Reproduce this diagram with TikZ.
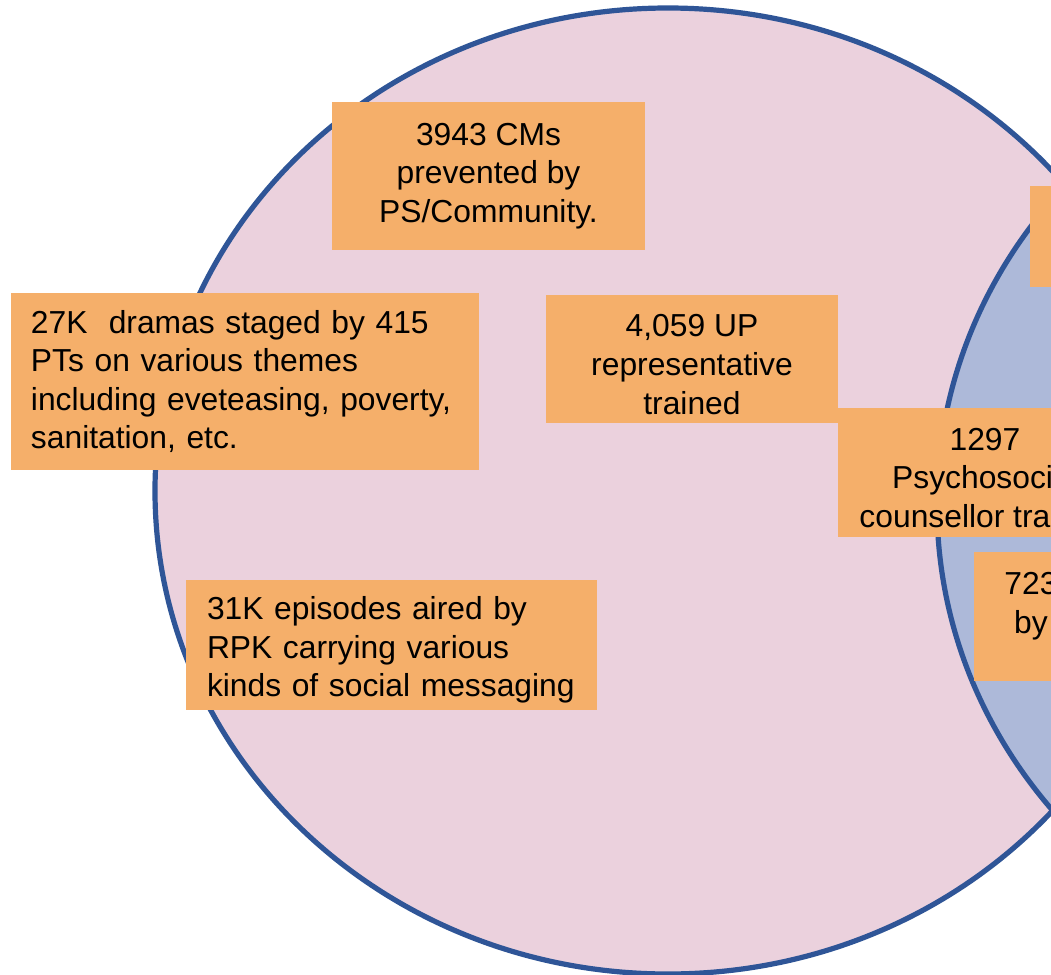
\documentclass[tikz,border=0pt]{standalone}
\usepackage{fontspec}
\setmainfont{Liberation Sans}
\definecolor{ringblue}{HTML}{2F5597}
\definecolor{pinkfill}{HTML}{EBD1DD}
\definecolor{bluefill}{HTML}{ADB9D9}
\definecolor{boxorange}{HTML}{F5AF6A}
\newcommand{\toppad}{\rule{0pt}{16.6pt}}
\begin{document}
\begin{tikzpicture}[x=0.5pt,y=-0.5pt,
  ring/.style={draw=ringblue, line width=2.6pt},
  box/.style={fill=boxorange, draw=none, inner sep=0pt, text=black,
    font=\fontsize{15.9pt}{19.3pt}\selectfont},
  cbox/.style={box, align=center},
  lbox/.style={box, align=left}]
\useasboundingbox (0,0) rectangle (1051,975);
\clip (0,0) rectangle (1051,975);
\fill[white] (0,0) rectangle (1051,975);
\path[ring, fill=pinkfill] (668,491) ellipse [x radius=256.5pt, y radius=241.5pt];
\path[ring, fill=bluefill] (1450,505) ellipse [x radius=256.5pt, y radius=241.5pt];
\node[cbox, minimum width=156.5pt, minimum height=74pt] (cms) at (488.5,176)
  {3943 CMs\\prevented by\\PS/Community.};
\node[lbox, inner xsep=10pt, text width=214pt, minimum height=88.5pt] (dramas) at (245,381.5)
  {27K\ \ dramas staged by 415\\PTs on various themes\\including eveteasing, poverty,\\sanitation, etc.};
\node[cbox, minimum width=146pt, minimum height=64pt] (up) at (692,359)
  {\toppad 4,059 UP\\representative\\trained};
\node[cbox, minimum width=147pt, minimum height=64.5pt] (psy) at (985,472.5)
  {\toppad 1297\\Psychosocial\\counsellor trained};
\node[cbox, minimum width=57pt, minimum height=64.5pt] (sev) at (1031,616.5)
  {\toppad 723\\by\\\mbox{}};
\node[lbox, inner xsep=10.5pt, text width=184.5pt, minimum height=65pt] (rpk) at (391.5,645)
  {\toppad 31K episodes aired by\\RPK carrying various\\kinds of social messaging};
\node[box, minimum width=85pt, minimum height=50.5pt] (topr) at (1115,236.5) {};
\end{tikzpicture}
\end{document}
